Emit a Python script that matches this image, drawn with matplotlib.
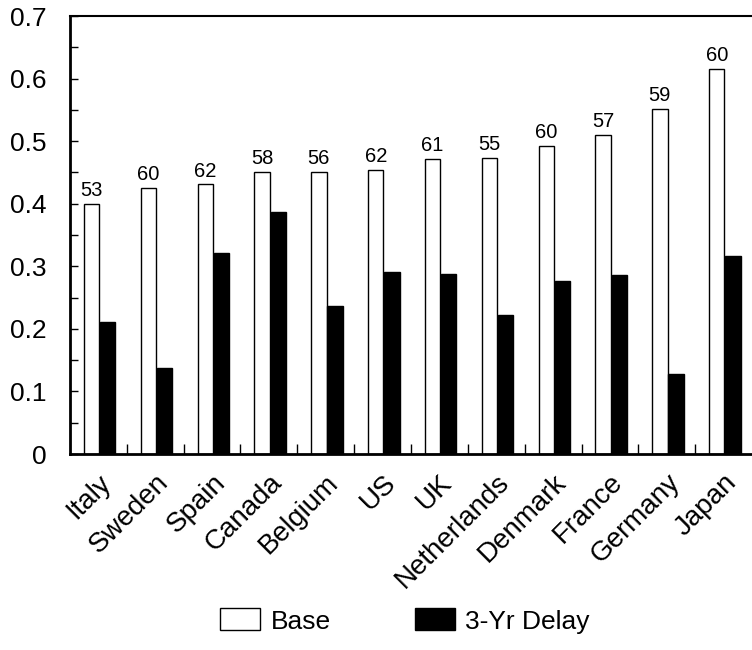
import numpy as np
import matplotlib
matplotlib.use('Agg')
import matplotlib.pyplot as plt
from matplotlib.ticker import MultipleLocator, FixedLocator

plt.rcParams['font.family'] = ['Liberation Sans', 'DejaVu Sans']

countries = ['Italy', 'Sweden', 'Spain', 'Canada', 'Belgium', 'US', 'UK',
             'Netherlands', 'Denmark', 'France', 'Germany', 'Japan']
base = [0.400, 0.425, 0.431, 0.451, 0.451, 0.454, 0.472, 0.473, 0.493, 0.510, 0.551, 0.615]
delay = [0.211, 0.137, 0.321, 0.387, 0.237, 0.291, 0.287, 0.222, 0.277, 0.286, 0.128, 0.316]
ages = [53, 60, 62, 58, 56, 62, 61, 55, 60, 57, 59, 60]

x = np.arange(len(countries))
w = 0.27

fig = plt.figure(figsize=(7.52, 6.5), dpi=100)
ax = fig.add_axes([70/752, 1-454/650, 1-70/752, (454-16)/650])

ax.bar(x-0.12, base, w, color='white', edgecolor='black', linewidth=1, label='Base')
ax.bar(x+0.165, delay, w, color='black', edgecolor='black', linewidth=1, label='3-Yr Delay')

for xi, b, a in zip(x, base, ages):
    ax.text(xi-0.12, b+0.006, str(a), ha='center', va='bottom', fontsize=14.5)

ax.set_xlim(-0.5, 11.5)
ax.set_ylim(0, 0.7)
ax.yaxis.set_minor_locator(MultipleLocator(0.05))
ax.set_yticks([0, 0.1, 0.2, 0.3, 0.4, 0.5, 0.6, 0.7])
ax.set_yticklabels(['0', '0.1', '0.2', '0.3', '0.4', '0.5', '0.6', '0.7'])
ax.tick_params(axis='y', which='both', direction='in', length=6, width=1, labelsize=19, pad=17)

ax.set_xticks(x)
ax.set_xticklabels(countries, rotation=45, ha='right', rotation_mode='anchor', fontsize=20)
ax.tick_params(axis='x', which='major', length=0, pad=11)
ax.xaxis.set_minor_locator(FixedLocator(np.arange(0.5, 11.5, 1)))
ax.tick_params(axis='x', which='minor', direction='in', length=7, width=1)

ax.spines['left'].set_linewidth(2)
ax.spines['bottom'].set_linewidth(2)
ax.spines['top'].set_linewidth(1.5)
ax.spines['right'].set_visible(False)

fig.legend(loc='center', bbox_to_anchor=(405/752, 1-621/650), ncol=2, frameon=False,
           fontsize=19, handlelength=1.5, handleheight=0.9, handletextpad=0.4,
           columnspacing=3.2)

fig.savefig('out.png', dpi=100)
